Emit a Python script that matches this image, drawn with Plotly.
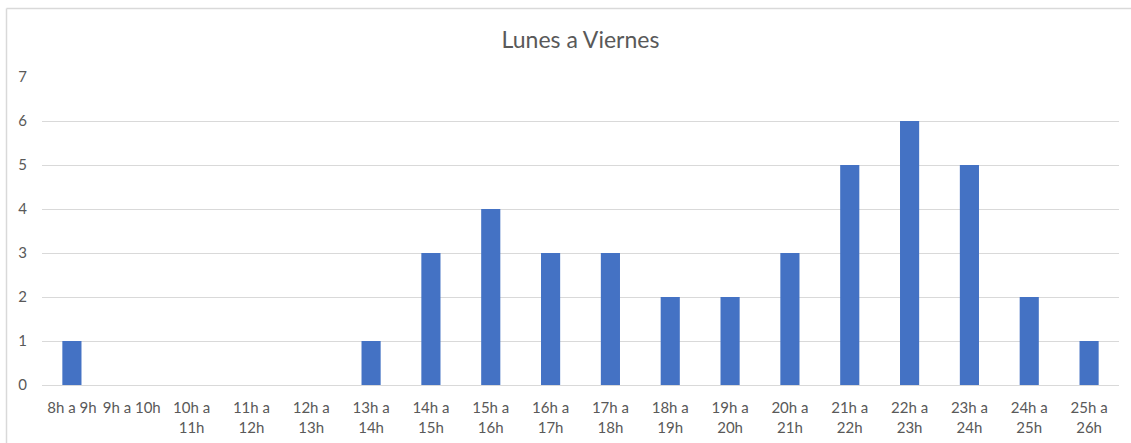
import plotly.graph_objects as go

categories = ["8h a 9h", "9h a 10h", "10h a<br>11h", "11h a<br>12h", "12h a<br>13h", "13h a<br>14h",
              "14h a<br>15h", "15h a<br>16h", "16h a<br>17h", "17h a<br>18h", "18h a<br>19h", "19h a<br>20h",
              "20h a<br>21h", "21h a<br>22h", "22h a<br>23h", "23h a<br>24h", "24h a<br>25h", "25h a<br>26h"]
values = [1, 0, 0, 0, 0, 1, 3, 4, 3, 3, 2, 2, 3, 5, 6, 5, 2, 1]
y_ticks = [0, 1, 2, 3, 4, 5, 6, 7]

# body margin is removed in the page, so figure pixels = window pixels
W, H = 1131, 443
L = 42
T = 77
R = W - 1119
B = H - 385
pw, ph = W - L - R, H - T - B

fig = go.Figure(go.Bar(x=categories, y=values, marker=dict(color="#4472c4", line=dict(width=0)),
                       hoverinfo="x+y"))

def px_x(x):
    return (x - L) / pw

def px_y(y):
    return (H - B - y) / ph

border = dict(color="#d9d9d9", width=1.5)
fig.update_layout(
    width=W, height=H,
    margin=dict(l=L, r=R, t=T, b=B, autoexpand=False),
    paper_bgcolor="white", plot_bgcolor="white",
    bargap=0.68,
    showlegend=False,
    font=dict(family="Lato, Carlito, sans-serif", color="#595959", size=15),
    title=dict(text="Lunes a Viernes", x=0.5, xref="paper", xanchor="center",
               y=(H - 40) / H, yanchor="middle", font=dict(size=23, color="#595959")),
    xaxis=dict(showgrid=False, showline=False, ticks="", zeroline=False, tickangle=0, automargin=False,
               ticklabelstandoff=12, tickfont=dict(size=15, color="#595959")),
    yaxis=dict(range=[0, 7], tickvals=y_ticks, showgrid=True, gridcolor="#d9d9d9", gridwidth=1,
               zeroline=True, zerolinecolor="#d9d9d9", zerolinewidth=1, showline=False, ticks="",
               automargin=False, ticklabelstandoff=14, tickfont=dict(size=15, color="#595959")),
    shapes=[
        dict(type="line", xref="paper", yref="paper", x0=px_x(6.5), x1=px_x(1140),
             y0=px_y(8.5), y1=px_y(8.5), line=border, layer="below"),
        dict(type="line", xref="paper", yref="paper", x0=px_x(6.5), x1=px_x(6.5),
             y0=px_y(8.5), y1=px_y(450), line=border, layer="below"),
    ],
)

fig.write_html("out.html", config={"displayModeBar": False},
               post_script="document.body.style.margin='0';document.body.style.overflow='hidden';")
